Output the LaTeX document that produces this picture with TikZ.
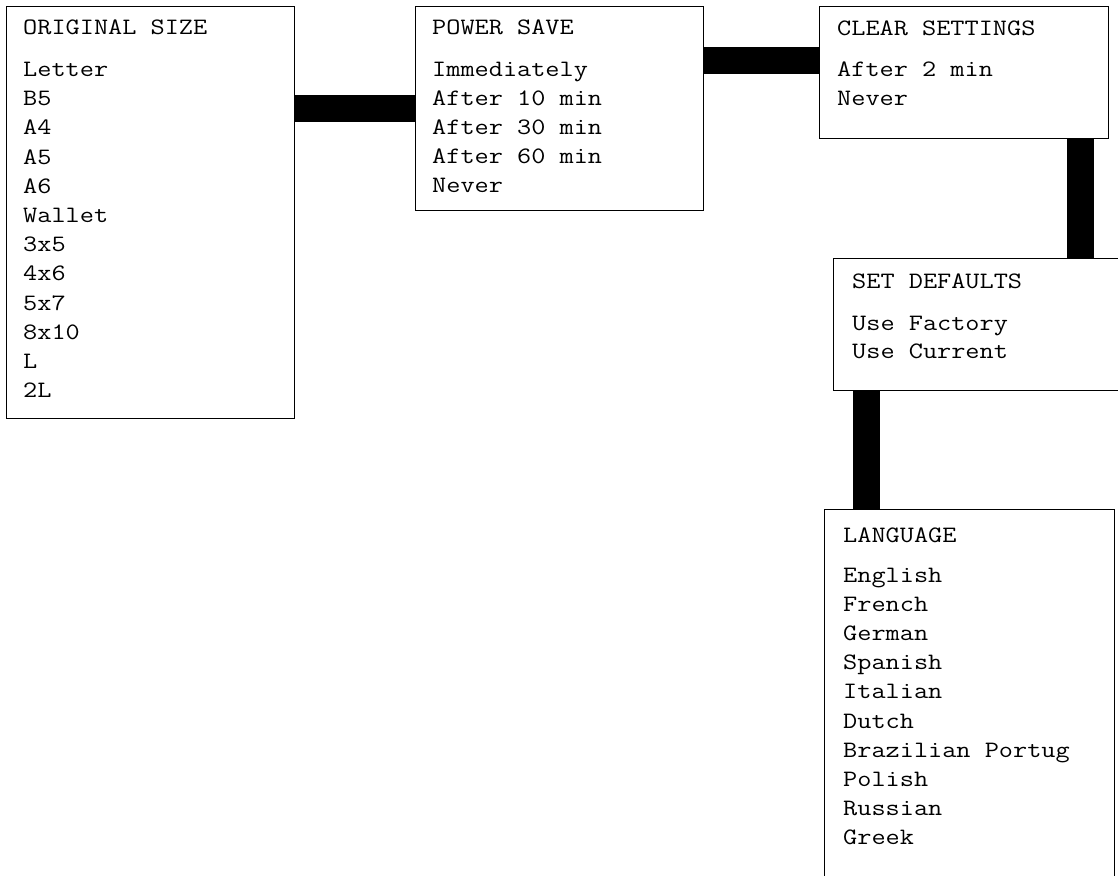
\documentclass[tikz,border=0pt]{standalone}
\newcommand{\stx}[1]{\scalebox{1.17}[1]{#1}}
\begin{document}
\begin{tikzpicture}[x=1pt,y=-1pt,
  menubox/.style={draw=black,line width=1.3pt,fill=white,inner sep=0pt,anchor=north west},
  item/.style={anchor=base west,inner sep=0pt,font=\ttfamily\fontsize{23.5}{23.5}\selectfont},
  bar/.style={line width=27pt,line cap=butt}]
\clip (0,0) rectangle (1118,875);
\fill[white] (0,0) rectangle (1118,875);
% boxes
\node[menubox,minimum width=288pt,minimum height=412pt] (b1) at (6,6) {};
\node[menubox,minimum width=288pt,minimum height=204pt] (b2) at (415,6) {};
\node[menubox,minimum width=289pt,minimum height=132pt] (b3) at (819,6) {};
\node[menubox,minimum width=300pt,minimum height=132pt] (b4) at (833,258) {};
\node[menubox,minimum width=290pt,minimum height=400pt] (b5) at (824,509) {};
% connectors
\coordinate (c1) at (0,108.5);
\coordinate (c2) at (0,60.5);
\coordinate (c3) at (1080,0);
\coordinate (c4) at (866.5,0);
\draw[bar] (b1.east |- c1) -- (b2.west |- c1);
\draw[bar] (b2.east |- c2) -- (b3.west |- c2);
\draw[bar] (b3.south -| c3) -- (b4.north -| c3);
\draw[bar] (b4.south -| c4) -- (b5.north -| c4);
% texts box1
\node[item] (t1h) at (23,35) {\stx{ORIGINAL SIZE}};
\foreach \t [count=\i from 0] in {Letter,B5,A4,A5,A6,Wallet,3x5,4x6,5x7,8x10,L,2L}
  \node[item] (t1-\i) at (23,{76.5+\i*29.2}) {\stx{\t}};
% box2
\node[item] (t2h) at (432,35) {\stx{POWER SAVE}};
\foreach \t [count=\i from 0] in {Immediately,After 10 min,After 30 min,After 60 min,Never}
  \node[item] (t2-\i) at (432,{76+\i*29.2}) {\stx{\t}};
% box3
\node[item] (t3h) at (837,35.5) {\stx{CLEAR SETTINGS}};
\foreach \t [count=\i from 0] in {After 2 min,Never}
  \node[item] (t3-\i) at (837,{77+\i*28.5}) {\stx{\t}};
% box4
\node[item] (t4h) at (852,288) {\stx{SET DEFAULTS}};
\foreach \t [count=\i from 0] in {Use Factory,Use Current}
  \node[item] (t4-\i) at (852,{330+\i*28}) {\stx{\t}};
% box5
\node[item] (t5h) at (843,542) {\stx{LANGUAGE}};
\foreach \t [count=\i from 0] in {English,French,German,Spanish,Italian,Dutch,Brazilian Portug,Polish,Russian,Greek}
  \node[item] (t5-\i) at (843,{582+\i*29.2}) {\stx{\t}};
\end{tikzpicture}
\end{document}
